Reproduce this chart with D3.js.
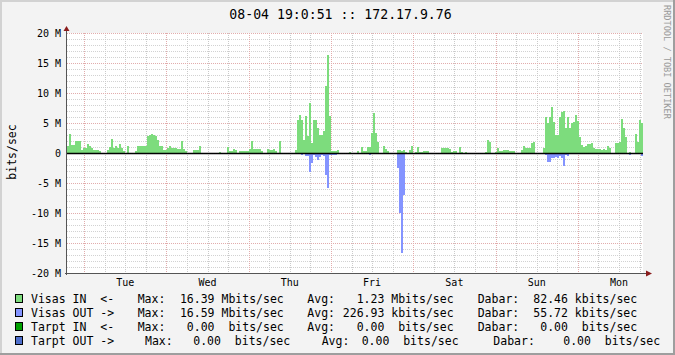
<!DOCTYPE html>
<html>
<head>
<meta charset="utf-8">
<script src="https://cdn.jsdelivr.net/npm/d3@7"></script>
<style>
  body { margin: 0; background: #f3f3f3; }
  svg { display: block; }
  text { font-family: "DejaVu Sans Mono", monospace; fill: #000; }
</style>
</head>
<body>
<div id="chart"></div>
<script>
// traffic samples in Mbits/sec, one every 35 min, Mon 07-28 19:00 -> Mon 08-04 19:00
const visasIn = [
  1.2, 3.2, 1.4, 1.4, 2.0, 2.0, 2.0, 0.55, 0.8, 0.8,
  1.55, 1.1, 0.8, 0.55, 0.55, 0.55, 0.3, 0, 0, 0,
  0.55, 0.95, 2.3, 0.8, 1.1, 0.8, 1.55, 0.8, 0.3, 0,
  1.2, 0, 0, 0, 0.3, 1.1, 1.1, 1.1, 1.1, 1.1,
  2.8, 3.05, 3.2, 3.05, 2.8, 2.2, 1.1, 1.1, 0.55, 0.55,
  0.8, 1.1, 0.8, 0.8, 0.8, 0.65, 0.65, 1.95, 0.65, 0.3,
  0, 0, 0, 0.55, 0.55, 0.55, 1.2, 0, 0, 0,
  0, 0, 0, 0, 0, 0, 0.2, 0, 0, 0,
  0.95, 0.4, 0.4, 0.7, 0.55, 0, 0.3, 0.3, 0.4, 0.4,
  0.4, 0.65, 2.05, 0.7, 0.7, 0.7, 0.7, 0.4, 0, 0,
  0.7, 0.45, 0.45, 0.7, 0.3, 0, 1.95, 0, 0, 0,
  0, 0, 0, 0, 0.55, 5.55, 6.4, 5.55, 2.2, 6.1,
  2.9, 8.3, 1.65, 5.55, 5.55, 4.2, 3.05, 3.05, 3.6, 11.1,
  16.39, 6.1, 0.4, 0.4, 0.4, 0.55, 0, 0, 0, 0,
  0, 0.2, 0, 0, 0, 0.35, 0, 1.0, 0.35, 0.35,
  1.0, 1.0, 3.4, 6.6, 3.4, 1.9, 0, 0, 1.15, 0.65,
  0.35, 0, 0, 0, 0, 0.5, 0.5, 0.35, 0.5, 0.2,
  0, 0.5, 1.15, 0, 0.15, 1.0, 0.15, 0.15, 0.35, 0.35,
  0.35, 0, 0, 0, 0, 0, 0, 0.8, 0.8, 0.8,
  0.9, 0.6, 0.2, 0.35, 0.35, 0, 1.0, 0.2, 0, 0.15,
  0, 0, 0, 0, 0, 0, 0, 0, 0, 0.2,
  2.15, 1.85, 0, 0, 0.2, 0.8, 0.4, 0.4, 0.5, 0.5,
  0.5, 0.35, 0.35, 0.35, 0, 0, 0, 0.5, 1.2, 0.8,
  0.8, 0.8, 1.6, 1.9, 0, 0, 0, 0, 0.8, 6.05,
  4.95, 6.05, 7.7, 5.2, 3.0, 3.0, 6.05, 6.9, 7.0, 4.1,
  6.05, 4.1, 4.95, 5.2, 6.3, 5.35, 2.7, 1.35, 1.05, 1.2,
  1.45, 1.45, 1.6, 0.8, 0.65, 0.65, 0.65, 0.5, 0.65, 0.5,
  1.2, 0.9, 0, 0, 1.6, 1.6, 1.9, 5.65, 4.1, 2.7,
  0, 0.2, 0, 0, 3.1, 1.9, 5.5, 4.95
];

const visasOut = [
  0, 0, 0, 0, 0, 0, 0, 0, 0, 0,
  0, 0, 0, 0, 0, 0, 0, 0, 0, 0,
  0, 0, 0, 0, 0, 0, 0, 0, 0, 0,
  0, 0, 0, 0, 0, 0, 0, 0, 0, 0,
  0, 0, 0, 0, 0, 0, 0, 0, 0, 0,
  0, 0, 0, 0, 0, 0, 0, 0, 0, 0,
  0, 0, 0, 0, 0, 0, 0, 0, 0, 0,
  0.2, 0.2, 0.2, 0, 0, 0.2, 0.2, 0, 0, 0,
  0, 0, 0, 0, 0, 0, 0, 0, 0, 0,
  0, 0, 0, 0, 0, 0, 0, 0, 0, 0,
  0, 0, 0, 0, 0, 0, 0, 0, 0, 0,
  0, 0, 0, 0, 0.2, 0.2, 0.2, 0.3, 0, 0.5,
  0.5, 3.1, 1.6, 0.3, 0.6, 1.15, 0.7, 0.3, 0.5, 3.6,
  5.8, 0.3, 0.3, 0.3, 0.3, 0, 0, 0, 0, 0,
  0, 0, 0, 0, 0, 0, 0, 0, 0, 0,
  0, 0.4, 0, 0.2, 0.2, 0, 0, 0, 0, 0,
  0, 0, 0, 0, 0, 2.45, 10.05, 16.59, 7.0, 0,
  0, 0, 0, 0, 0, 0, 0, 0, 0, 0,
  0, 0, 0, 0, 0, 0, 0, 0, 0, 0,
  0, 0.2, 0, 0, 0, 0, 0, 0, 0, 0,
  0, 0, 0, 0, 0, 0, 0, 0, 0, 0,
  0, 0, 0, 0, 0, 0, 0, 0, 0, 0,
  0, 0, 0, 0, 0, 0, 0, 0, 0, 0,
  0, 0, 0, 0, 0, 0, 0, 0, 0, 0.35,
  1.45, 1.45, 0.9, 0.9, 0.6, 0.9, 0.45, 0.9, 2.1, 0.35,
  0.5, 0.2, 0.2, 0.2, 0.2, 0.2, 0, 0, 0, 0,
  0, 0, 0, 0, 0, 0, 0, 0, 0, 0,
  0, 0, 0, 0, 0, 0, 0.2, 0.2, 0.2, 0.2,
  0, 0.35, 0, 0, 0, 0.2, 0.2, 0.45
];

const yTickValues = [-20, -15, -10, -5, 0, 5, 10, 15, 20];
const dayNames = ["Mon", "Tue", "Wed", "Thu", "Fri", "Sat", "Sun"];

// legend
const legendLabels = ["Visas IN  <-", "Visas OUT ->", "Tarpt IN  <-", "Tarpt OUT ->"];
const legendColors = ["#7ddc7d", "#8494ff", "#00a000", "#4f6fcc"];
const legendMax = [16.39, 16.59, 0, 0];
const legendMaxUnit = ["M", "M", " ", " "];
const legendAvg = [1.23, 226.93, 0, 0];
const legendAvgUnit = ["M", "k", " ", " "];
const legendNow = [82.46, 55.72, 0, 0];
const legendNowUnit = ["k", "k", " ", " "];

const W = 675, H = 355;
const plot = { left: 67, right: 643, top: 33, bottom: 273 };

const start = new Date(Date.UTC(2008, 6, 28, 19, 0, 51));
const end = new Date(Date.UTC(2008, 7, 4, 19, 0, 51));
const step = (end - start) / visasIn.length;

const x = d3.scaleUtc().domain([start, end]).range([plot.left, plot.right]);
const y = d3.scaleLinear().domain([-20, 20]).range([plot.bottom, plot.top]);

const svg = d3.select("#chart").append("svg")
    .attr("width", W)
    .attr("height", H);

// background + 3d frame
svg.append("rect").attr("width", W).attr("height", H).attr("fill", "#f3f3f3");
svg.append("path").attr("d", `M0,${H} V0 H${W}`).attr("fill", "none")
    .attr("stroke", "#d2d2d2").attr("stroke-width", 4);
svg.append("path").attr("d", `M0,${H} H${W} V0`).attr("fill", "none")
    .attr("stroke", "#9e9e9e").attr("stroke-width", 4);

svg.append("rect")
    .attr("x", plot.left).attr("y", plot.top)
    .attr("width", plot.right - plot.left).attr("height", plot.bottom - plot.top)
    .attr("fill", "#fff");

// grid
const grid = svg.append("g").attr("shape-rendering", "crispEdges").attr("fill", "none");

const minorY = y.ticks(40).filter(v => v % 5 !== 0);
grid.selectAll(".hmin").data(minorY).join("line")
    .attr("x1", plot.left).attr("x2", plot.right)
    .attr("y1", d => y(d) + 0.5).attr("y2", d => y(d) + 0.5)
    .attr("stroke", "#d2d2d2").attr("stroke-dasharray", "1,1");

const hours = d3.utcHour.every(6).range(start, end).filter(t => t.getUTCHours() !== 0);
grid.selectAll(".vmin").data(hours).join("line")
    .attr("x1", d => Math.round(x(d)) + 0.5).attr("x2", d => Math.round(x(d)) + 0.5)
    .attr("y1", plot.top).attr("y2", plot.bottom)
    .attr("stroke", "#cacaca").attr("stroke-dasharray", "1,1");

grid.selectAll(".hmaj").data(yTickValues).join("line")
    .attr("x1", plot.left).attr("x2", plot.right)
    .attr("y1", d => y(d) + 0.5).attr("y2", d => y(d) + 0.5)
    .attr("stroke", "#e2acac").attr("stroke-dasharray", "1,1");

const days = d3.utcDay.range(start, end);
grid.selectAll(".vmaj").data(days).join("line")
    .attr("x1", d => Math.round(x(d)) + 0.5).attr("x2", d => Math.round(x(d)) + 0.5)
    .attr("y1", plot.top).attr("y2", plot.bottom)
    .attr("stroke", "#e2acac").attr("stroke-dasharray", "1,1");

// areas
function series(values) {
    const pts = values.map((v, i) => ({ t: new Date(+start + i * step), v }));
    pts.push({ t: end, v: values[values.length - 1] });
    return pts;
}

const inArea = d3.area()
    .x(d => x(d.t)).y0(y(0)).y1(d => y(d.v))
    .curve(d3.curveStepAfter);
const outArea = d3.area()
    .x(d => x(d.t)).y0(y(0)).y1(d => y(-d.v))
    .curve(d3.curveStepAfter);

svg.append("path").datum(series(visasIn))
    .attr("d", inArea).attr("fill", legendColors[0]).attr("shape-rendering", "crispEdges");
svg.append("path").datum(series(visasOut))
    .attr("d", outArea).attr("fill", legendColors[1]).attr("shape-rendering", "crispEdges");

// zero line
svg.append("line")
    .attr("x1", plot.left).attr("x2", plot.right)
    .attr("y1", y(0) + 0.5).attr("y2", y(0) + 0.5)
    .attr("stroke", "#000").attr("stroke-width", 1.3);

// axes
svg.append("line")
    .attr("x1", plot.left - 0.5).attr("x2", plot.left - 0.5)
    .attr("y1", plot.bottom + 2).attr("y2", plot.top - 4)
    .attr("stroke", "#555");
svg.append("line")
    .attr("x1", plot.left - 2).attr("x2", plot.right + 4)
    .attr("y1", plot.bottom + 0.5).attr("y2", plot.bottom + 0.5)
    .attr("stroke", "#555");
svg.append("path")
    .attr("d", `M${plot.left - 3.5},${plot.top - 2} L${plot.left + 2.5},${plot.top - 2} L${plot.left - 0.5},${plot.top - 7} Z`)
    .attr("fill", "#8a1c1c");
svg.append("path")
    .attr("d", `M${plot.right + 3},${plot.bottom - 2.5} L${plot.right + 3},${plot.bottom + 3.5} L${plot.right + 9},${plot.bottom + 0.5} Z`)
    .attr("fill", "#8a1c1c");

// y labels
svg.append("g").selectAll("text").data(yTickValues).join("text")
    .attr("x", 61).attr("y", d => y(d))
    .attr("text-anchor", "end").attr("dominant-baseline", "central")
    .attr("font-size", 10)
    .text(d => d === 0 ? "0" : `${d} M`);

// x labels (noon of each day)
svg.append("g").selectAll("text").data(days).join("text")
    .attr("x", d => x(d3.utcHour.offset(d, 12)))
    .attr("y", 282)
    .attr("text-anchor", "middle").attr("dominant-baseline", "central")
    .attr("font-size", 10)
    .text(d => dayNames[d.getUTCDay() === 0 ? 6 : d.getUTCDay() - 1]);

svg.append("text")
    .attr("transform", "translate(12,152) rotate(-90)")
    .attr("text-anchor", "middle").attr("dominant-baseline", "central")
    .attr("font-size", 11.5)
    .text("bits/sec");

svg.append("text")
    .attr("x", 340.5).attr("y", 14)
    .attr("text-anchor", "middle").attr("dominant-baseline", "central")
    .attr("font-size", 13.2)
    .text("08-04 19:0:51 :: 172.17.9.76");

svg.append("text")
    .attr("transform", "translate(667,5) rotate(90)")
    .attr("dominant-baseline", "central")
    .attr("font-size", 8.6)
    .style("fill", "#9a9a9a")
    .text("RRDTOOL / TOBI OETIKER");

// legend
const fmt = d3.format("6.2f");
const colsA = [31, 137.7, 173, 307.3, 342.8, 477.7, 526.4];
const colsB = [31, 145, 179.4, 321.7, 347.8, 493.3, 549.4];

const legend = svg.append("g").attr("font-size", 11.5);
legendLabels.forEach((label, i) => {
    const cy = 299 + i * 14;
    const cols = i === 3 ? colsB : colsA;
    legend.append("rect")
        .attr("x", 15.5).attr("y", cy - 4.5)
        .attr("width", 7).attr("height", 8)
        .attr("fill", legendColors[i]).attr("stroke", "#000");
    const parts = [
        label,
        "Max:",
        `${fmt(legendMax[i])} ${legendMaxUnit[i]}bits/sec`,
        "Avg:",
        `${fmt(legendAvg[i])} ${legendAvgUnit[i]}bits/sec`,
        "Dabar:",
        `${fmt(legendNow[i])} ${legendNowUnit[i]}bits/sec`
    ];
    parts.forEach((p, j) => {
        legend.append("text")
            .attr("x", cols[j]).attr("y", cy)
            .attr("dominant-baseline", "central")
            .attr("xml:space", "preserve")
            .style("white-space", "pre")
            .text(p);
    });
});
</script>
</body>
</html>
